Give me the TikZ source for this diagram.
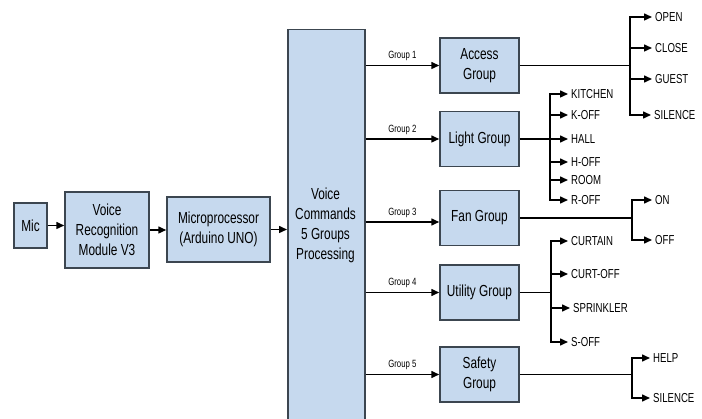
\documentclass[tikz,border=0pt]{standalone}
\usepackage{fontspec}
\setmainfont{Liberation Sans}[FakeStretch=0.74]
\usetikzlibrary{arrows.meta}
\definecolor{boxfill}{HTML}{C6D9EE}
\definecolor{boxline}{HTML}{3C4650}
\begin{document}
\begin{tikzpicture}[x=1pt,y=-1pt,
 box/.style={draw=boxline, fill=boxfill, line width=1.5pt, align=center, font=\fontsize{16}{20}\selectfont, inner sep=0pt},
 grp/.style={box, minimum width=79pt, minimum height=55pt},
 arr/.style={line width=1.5pt, -{Triangle[length=8pt,width=7pt]}},
 ln/.style={line width=1.5pt},
 leaf/.style={anchor=west, inner xsep=3pt, inner ysep=1pt, font=\fontsize{13}{15}\selectfont},
 lab/.style={font=\fontsize{10.5}{12}\selectfont, inner sep=1pt}]
\useasboundingbox (0,0) rectangle (702,419);
\clip (0,0) rectangle (702,419);
% left chain
\node[box, minimum width=33pt, minimum height=45pt] (mic) at (30.5,225.5) {Mic};
\node[box, minimum width=84pt, minimum height=76pt] (vr) at (107,230) {Voice\\Recognition\\Module V3};
\node[box, minimum width=103pt, minimum height=65pt] (mp) at (218.5,229.5) {Microprocessor\\(Arduino UNO)};
\node[box, anchor=north west, minimum width=77pt, minimum height=420pt] (big) at (287,29) {};
\node[align=center, font=\fontsize{16}{20}\selectfont, inner sep=0pt] (bigtxt) at (325.5,225) {Voice\\Commands\\5 Groups\\Processing};
\draw[arr] (mic.east) -- (mic.east -| vr.west);
\draw[arr] (vr.east) -- (vr.east -| mp.west);
\draw[arr] (mp.east) -- (mp.east -| big.west);
% groups
\node[grp] (access) at (479.5,65.5) {Access\\Group};
\node[grp] (light) at (479.5,139) {Light Group};
\node[grp] (fan) at (479.5,218) {Fan Group};
\node[grp] (util) at (479.5,292.5) {Utility Group};
\node[grp] (safe) at (479.5,374.5) {Safety\\Group};
\draw[arr] (big.east |- access.west) -- node[lab, above=3pt] {Group 1} (access.west);
\draw[arr] (big.east |- light.west) -- node[lab, above=3pt] {Group 2} (light.west);
\draw[arr] ([yshift=-4pt]fan.west -| big.east) -- node[lab, above=3pt] {Group 3} ([yshift=-4pt]fan.west);
\draw[arr] (big.east |- util.west) -- node[lab, above=3pt] {Group 4} (util.west);
\draw[arr] (big.east |- safe.west) -- node[lab, above=3pt] {Group 5} (safe.west);
% junction x positions
\coordinate (xa) at (630,0);
\coordinate (xl) at (550,0);
\coordinate (xf) at (632,0);
\coordinate (xu) at (551,0);
\coordinate (xs) at (632,0);
\coordinate (ja) at (access.east -| xa);
\coordinate (jl) at (light.east -| xl);
\coordinate (jf) at (fan.east -| xf);
\coordinate (ju) at (util.east -| xu);
\coordinate (js) at (safe.east -| xs);
% leaves
\node[leaf] (open) at (652,17) {OPEN};
\node[leaf] (close) at (652,48) {CLOSE};
\node[leaf] (guest) at (652,79) {GUEST};
\node[leaf] (sila) at (651,115) {SILENCE};
\node[leaf] (kitchen) at (568,94) {KITCHEN};
\node[leaf] (koff) at (568,115) {K-OFF};
\node[leaf] (hall) at (568,139) {HALL};
\node[leaf] (hoff) at (568,162) {H-OFF};
\node[leaf] (room) at (568,180) {ROOM};
\node[leaf] (roff) at (568,200) {R-OFF};
\node[leaf] (on) at (652,200) {ON};
\node[leaf] (off) at (652,240) {OFF};
\node[leaf] (curtain) at (568,241) {CURTAIN};
\node[leaf] (curtoff) at (568,274) {CURT-OFF};
\node[leaf] (sprink) at (570,308) {SPRINKLER};
\node[leaf] (soff) at (568,342) {S-OFF};
\node[leaf] (help) at (650,358) {HELP};
\node[leaf] (silb) at (650,398) {SILENCE};
% branches
\draw[ln] (access.east) -- (ja);
\foreach \n in {open,close,guest,sila} \draw[arr] (ja) |- (\n.west);
\draw[ln] (light.east) -- (jl);
\foreach \n in {kitchen,koff,hoff,room,roff} \draw[arr] (jl) |- (\n.west);
\draw[arr] (jl) -- (hall.west);
\draw[ln] (fan.east) -- (jf);
\foreach \n in {on,off} \draw[arr] (jf) |- (\n.west);
\draw[ln] (util.east) -- (ju);
\foreach \n in {curtain,curtoff,sprink,soff} \draw[arr] (ju) |- (\n.west);
\draw[ln] (safe.east) -- (js);
\foreach \n in {help,silb} \draw[arr] (js) |- (\n.west);
\end{tikzpicture}
\end{document}
